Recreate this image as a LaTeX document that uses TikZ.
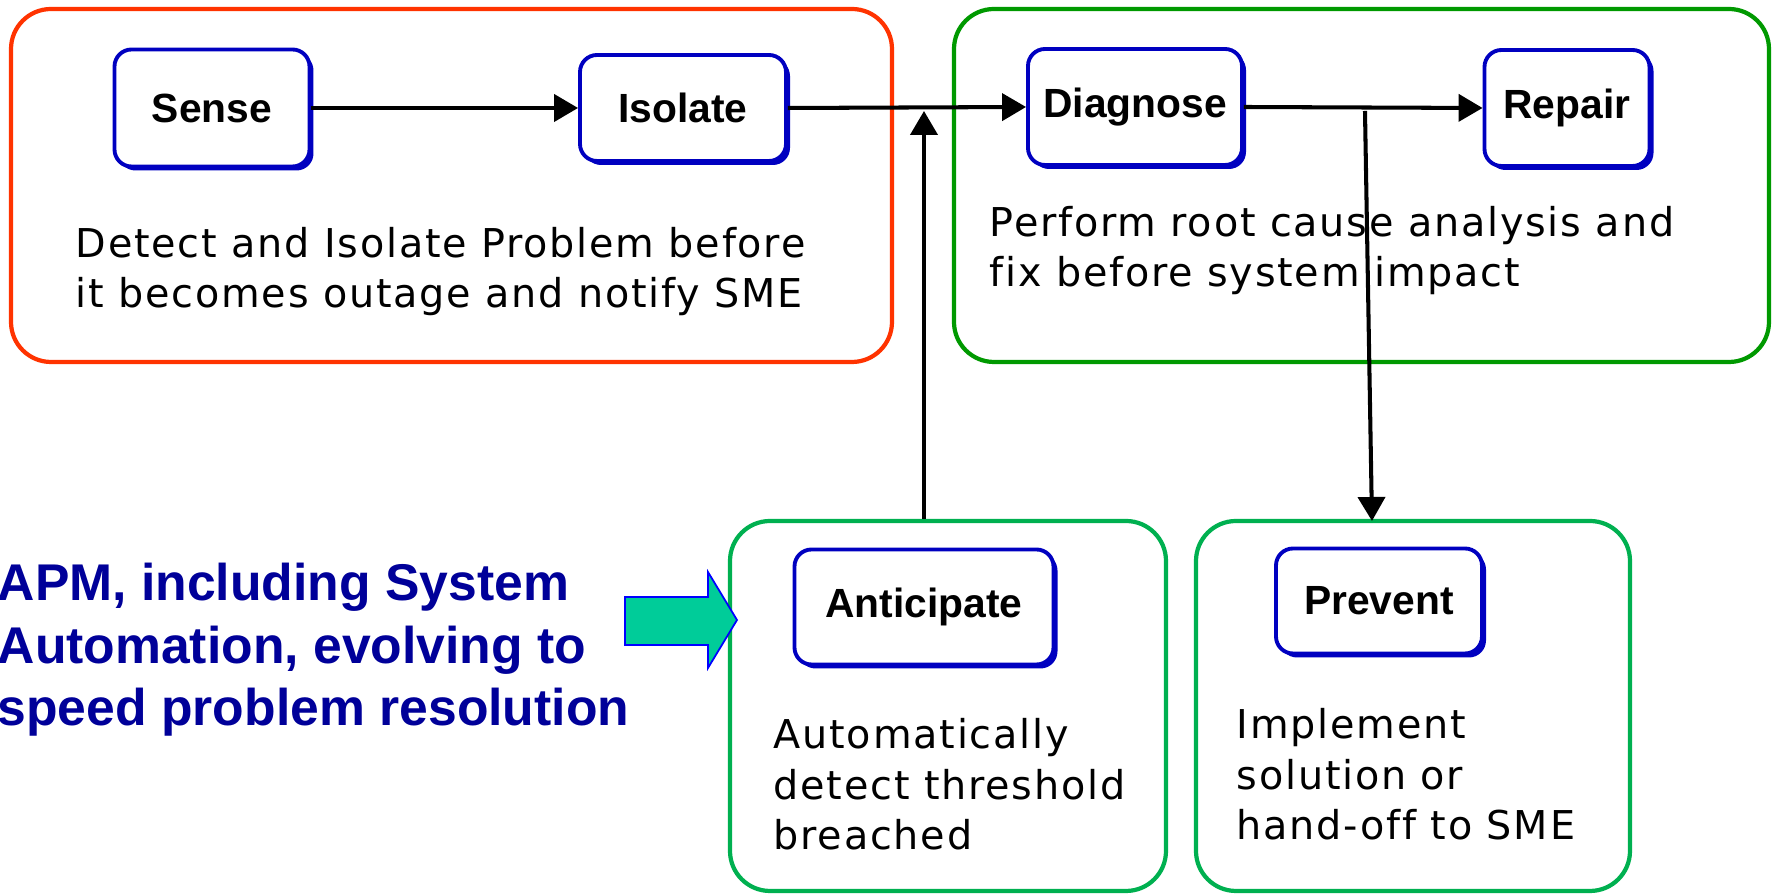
\documentclass[tikz,border=0pt]{standalone}
\usepackage{fontspec}
\setmainfont{DejaVu Sans}[LetterSpace=4.5, Ligatures=NoCommon]
\newfontfamily\labelfont{Liberation Sans}
\usetikzlibrary{arrows.meta,shadows}

\definecolor{framered}{HTML}{FF3300}
\definecolor{framegreen}{HTML}{009900}
\definecolor{panelgreen}{HTML}{00B050}
\definecolor{stageblue}{HTML}{0000C0}
\definecolor{notenavy}{HTML}{000099}
\definecolor{blockteal}{HTML}{00CC99}

\tikzset{
  panel/.style={draw, line width=1.2pt, rounded corners=0.4cm, inner sep=0pt},
  stage/.style={draw=stageblue, line width=1.1pt, fill=white, rounded corners=0.17cm, inner sep=0pt,
    font=\labelfont\bfseries\fontsize{11.6}{14}\selectfont,
    drop shadow={shadow xshift=0.04cm, shadow yshift=-0.04cm, fill=stageblue, opacity=1}},
  desc/.style={anchor=base west, align=left, inner sep=0pt, font=\fontsize{11.3}{14.5}\selectfont},
  flow/.style={line width=1.15pt, -{Triangle[length=0.24cm,width=0.27cm]}},
}

\begin{document}
\begin{tikzpicture}[x=0.1mm, y=-0.1mm]
  \useasboundingbox (0,0) rectangle (1775,895);

  % frames
  \node[panel, draw=framered, minimum width=8.81cm, minimum height=3.53cm] (senseframe) at (451.5,185.5) {};
  \node[panel, draw=framegreen, minimum width=8.15cm, minimum height=3.53cm] (fixframe) at (1361.5,185.5) {};
  \node[panel, draw=panelgreen, minimum width=4.36cm, minimum height=3.70cm] (antframe) at (948,706) {};
  \node[panel, draw=panelgreen, minimum width=4.34cm, minimum height=3.70cm] (prevframe) at (1413,706) {};

  % stages
  \node[stage, minimum width=1.95cm, minimum height=1.17cm] (sense) at (212,108) {Sense};
  \node[stage, minimum width=2.06cm, minimum height=1.06cm] (isolate) at (683,108) {Isolate};
  \node[stage, minimum width=2.14cm, minimum height=1.16cm] (diagnose) at (1135,107) {Diagnose};
  \node[stage, minimum width=1.65cm, minimum height=1.16cm] (repair) at (1567,108) {Repair};
  \node[stage, minimum width=2.59cm, minimum height=1.15cm] (anticipate) at (924,607) {Anticipate};
  \node[stage, minimum width=2.06cm, minimum height=1.05cm] (prevent) at (1379,601) {Prevent};

  % notes (placed at the baseline of their last line)
  \node[desc] (detectnote) at (75,308) {Detect and Isolate Problem before\\it becomes outage and notify SME};
  \node[desc] (rootnote) at (989,287) {Perform root cause analysis and\\fix before system impact};
  \node[desc] (anticnote) at (773,850) {Automatically\\detect threshold\\breached};
  \node[desc] (prevnote) at (1236,840) {Implement\\solution or\\hand-off to SME};

  \node[anchor=base west, align=left, inner sep=0pt, text=notenavy,
    font=\labelfont\bfseries\fontsize{14.7}{17.9}\selectfont] (apmnote) at (-3,726)
    {APM, including System\\Automation, evolving to\\speed problem resolution};

  % block arrow
  \filldraw[fill=blockteal, draw=blue, line width=0.5pt] (625,597) -- (708,597) -- (708,572) -- (737,620)
    -- (708,668) -- (708,645) -- (625,645) -- cycle;

  % flow
  \coordinate (joinA) at (924,111);
  \coordinate (splitB) at (1365,111);
  \coordinate (dropB) at (1372,521);
  \draw[flow] (sense.east) -- (isolate.west);
  \draw[flow] (isolate.east) -- (diagnose.west);
  \draw[flow] (diagnose.east) -- (repair.west);
  \draw[flow] (antframe.north -| joinA) -- (joinA);
  \draw[flow] (splitB) -- (dropB);
\end{tikzpicture}
\end{document}
